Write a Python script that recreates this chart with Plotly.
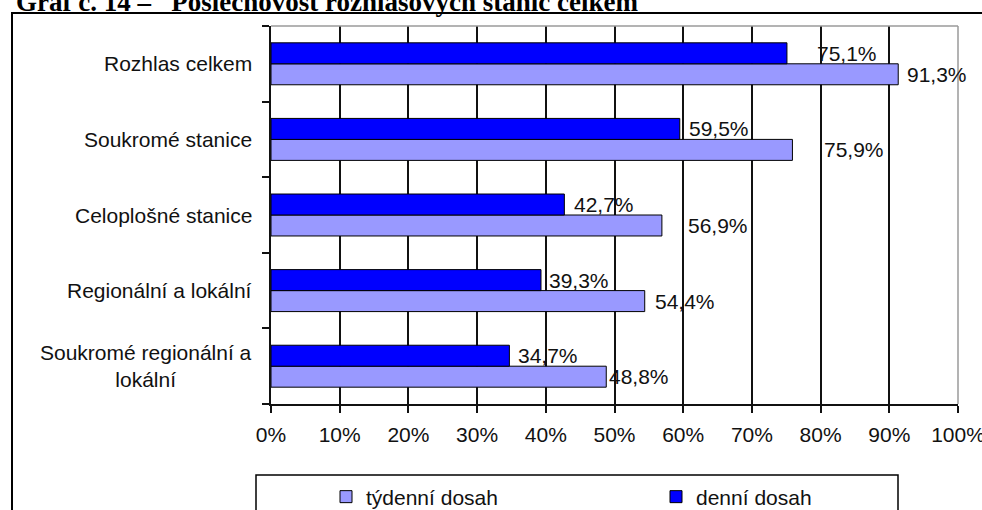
import plotly.graph_objects as go

# ---- data ----
categories = ["Rozhlas celkem", "Soukromé stanice", "Celoplošné stanice",
              "Regionální a lokální", "Soukromé regionální a<br>lokální"]
tydenni = [91.3, 75.9, 56.9, 54.4, 48.8]   # týdenní dosah
denni = [75.1, 59.5, 42.7, 39.3, 34.7]     # denní dosah
x_ticks = [0, 10, 20, 30, 40, 50, 60, 70, 80, 90, 100]
x_tick_labels = [f"{v}%" for v in x_ticks]
series_names = ["týdenní dosah", "denní dosah"]
title_text = "Graf č. 14 –\u00a0\u00a0 Poslechovost rozhlasových stanic celkem"

# label nudges (px, style only)
label_dx_tyd = [7, 30, 24, 8, 1]
label_dx_den = [28, 7, 8, 6, 7]

# ---- layout geometry ----
W, H = 982, 510
L, R, T, B = 271, 24, 26, 106
PW, PH = W - L - R, H - T - B
BARGAP = 0.445
FONT = "Liberation Sans, Arial, sans-serif"
FS = 21
TXT = "#111111"


def px2x(px):
    return (px - L) / PW


def py2y(py):
    return (H - B - py) / PH


cat_order = list(reversed(categories))  # bottom -> top

fig = go.Figure()
fig.add_trace(go.Bar(
    name=series_names[0], y=categories, x=tydenni, orientation="h",
    marker=dict(color="#9999FF", line=dict(color="#000000", width=1)),
    legend="legend",
))
fig.add_trace(go.Bar(
    name=series_names[1], y=categories, x=denni, orientation="h",
    marker=dict(color="#0000FF", line=dict(color="#000000", width=1)),
    legend="legend2",
))

annotations = []
half = (1 - BARGAP) / 4
for i, c in enumerate(categories):
    idx = cat_order.index(c)
    for v, off, dx in ((tydenni[i], -half, label_dx_tyd[i]),
                       (denni[i], half, label_dx_den[i])):
        annotations.append(dict(
            x=v, y=idx + off, xref="x", yref="y",
            text=f"{v:.1f}".replace(".", ",") + "%",
            showarrow=False, xanchor="left", yanchor="middle", xshift=dx,
            font=dict(family=FONT, size=FS, color=TXT),
        ))
    # category label
    annotations.append(dict(
        x=0, y=idx, xref="paper", yref="y", text=c, showarrow=False,
        xanchor="right", yanchor="middle", align="center", xshift=-17,
        font=dict(family=FONT, size=FS, color=TXT),
    ))

# title (cut off at the top, as in the reference)
annotations.append(dict(
    x=px2x(14), y=py2y(19.5), xref="paper", yref="paper", text="<b>" + title_text + "</b>",
    showarrow=False, xanchor="left", yanchor="bottom",
    font=dict(family="Liberation Serif, Times New Roman, serif", size=27, color="#000000"),
))

shapes = [
    # outer frame
    dict(type="rect", xref="paper", yref="paper",
         x0=px2x(12), x1=px2x(1000), y0=py2y(13), y1=py2y(540),
         line=dict(color="#000000", width=2), layer="below"),
    # plot area border (top & right, gray)
    dict(type="line", xref="paper", yref="paper", x0=0, x1=1, y0=1, y1=1,
         line=dict(color="#9a9a9a", width=1.5), layer="above"),
    dict(type="line", xref="paper", yref="paper", x0=1, x1=1, y0=0, y1=1,
         line=dict(color="#9a9a9a", width=1.5), layer="above"),
    # legend box
    dict(type="rect", xref="paper", yref="paper",
         x0=px2x(256), x1=px2x(898), y0=py2y(475), y1=py2y(540),
         line=dict(color="#000000", width=1.5), layer="below"),
]

legend_common = dict(
    orientation="h", xanchor="left", yanchor="middle", y=py2y(497),
    font=dict(family=FONT, size=FS, color=TXT),
    bgcolor="rgba(0,0,0,0)", borderwidth=0,
)

fig.update_layout(
    width=W, height=H,
    margin=dict(l=L, r=R, t=T, b=B, autoexpand=False),
    paper_bgcolor="white", plot_bgcolor="white",
    barmode="group", bargap=BARGAP, bargroupgap=0,
    font=dict(family=FONT, size=FS, color=TXT),
    xaxis=dict(
        range=[0, 100], tickmode="array", tickvals=x_ticks, ticktext=x_tick_labels,
        showgrid=True, gridcolor="#111111", gridwidth=1.5,
        showline=True, linecolor="#111111", linewidth=1.5,
        ticks="outside", ticklen=7, tickcolor="#111111", tickwidth=1.5,
        tickfont=dict(family=FONT, size=FS, color=TXT),
        ticklabeloverflow="allow", ticklabelstandoff=4,
        zeroline=False, fixedrange=True, automargin=False,
    ),
    yaxis=dict(
        type="category", categoryorder="array", categoryarray=cat_order,
        showticklabels=False, showgrid=False,
        showline=True, linecolor="#111111", linewidth=1.5,
        ticks="outside", ticklen=7, tickcolor="#111111", tickwidth=1.5,
        tickson="boundaries", zeroline=False, fixedrange=True, automargin=False,
    ),
    legend=dict(x=px2x(326), **legend_common),
    legend2=dict(x=px2x(656), **legend_common),
    annotations=annotations,
    shapes=shapes,
    showlegend=True,
)

fig.write_html("out.html")
